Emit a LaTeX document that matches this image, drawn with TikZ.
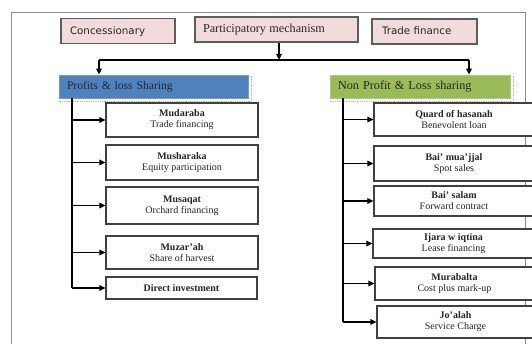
\documentclass[tikz,border=0pt]{standalone}
\usepackage{fontspec}
\setmainfont{Liberation Serif}
\newfontfamily\sansd{DejaVu Sans}
\usetikzlibrary{arrows.meta,calc}
\definecolor{pinkf}{HTML}{F2DCDB}
\definecolor{bluef}{HTML}{4F81BD}
\definecolor{greenf}{HTML}{9BBB59}
\definecolor{framec}{HTML}{8C8C8C}
\definecolor{boxc}{HTML}{404040}
\definecolor{txtc}{HTML}{262626}
\begin{document}
\begin{tikzpicture}[x=1pt,y=-1pt,
  topbox/.style={draw=boxc!85, line width=1.2pt, fill=pinkf, inner ysep=0pt, align=left, text=txtc},
  headbox/.style={line width=0.8pt, inner ysep=0pt, inner xsep=8pt, align=left, text=txtc},
  itembox/.style={draw=boxc, line width=1.2pt, fill=white, inner sep=0pt, align=center, text=txtc,
     font=\fontsize{10}{11}\selectfont},
  conn/.style={line width=1.5pt, black},
  arr/.style={line width=1.5pt, black, -{Triangle[length=6pt,width=5.5pt]}},
  shadowl/.style={line width=0.8pt, gray!55, densely dotted}]
\useasboundingbox (0,0) rectangle (532,344);
\fill[white] (0,0) rectangle (532,344);
% frame
\draw[framec, line width=1pt] (11,344) -- (11,13) -- (525,13) -- (525,344);

% top boxes (text left aligned)
\node[topbox, inner xsep=9pt, text width=96pt, minimum height=25pt, text depth=1pt] (conc) at (118,31)
  {\sansd\fontsize{10.3}{12}\selectfont Concessionary};
\node[topbox, inner xsep=8pt, text width=147pt, minimum height=25pt] (pm) at (276.5,29.5)
  {\fontsize{12.2}{14}\selectfont Participatory mechanism};
\node[topbox, inner xsep=10pt, text width=85pt, minimum height=25pt, text depth=1pt] (tf) at (424.5,31.5)
  {\sansd\fontsize{10.3}{12}\selectfont Trade finance};

% heads
\node[headbox, fill=bluef, draw=bluef!80!white, text width=173pt, minimum height=23pt,
  font=\fontsize{11.6}{14}\selectfont] (pls) at (153.5,86.5)
  {Profits \& loss Sharing};
\node[headbox, fill=greenf, draw=greenf!80!white, text width=164pt, minimum height=23pt,
  font=\fontsize{12.2}{14}\selectfont] (npls) at (420,86.5)
  {Non Profit \& Loss sharing};
\draw[shadowl] ($(pls.north east)+(3,1)$) -- ($(pls.south east)+(3,3)$) -- ($(pls.south west)+(-1,3)$);
\draw[shadowl] ($(npls.north east)+(3,1)$) -- ($(npls.south east)+(3,3)$) -- ($(npls.south west)+(-1,3)$);

% distribution
\coordinate (jn) at (279,60);
\coordinate (hl) at (99,60);
\coordinate (hr) at (469,60);
\draw[arr] (jn |- pm.south) -- (jn);
\draw[conn] (hl) -- (hr);
\draw[arr] (hl) -- (hl |- pls.north);
\draw[arr] (hr) -- (hr |- npls.north);

% left items
\node[itembox, minimum width=152pt, minimum height=34pt] (b1) at (182,120)
  {\textbf{Mudaraba}\\Trade financing};
\node[itembox, minimum width=152pt, minimum height=35pt] (b2) at (182,162.5)
  {\textbf{Musharaka}\\Equity participation};
\node[itembox, minimum width=152pt, minimum height=37pt] (b3) at (182,205.5)
  {\textbf{Musaqat}\\Orchard financing};
\node[itembox, minimum width=152pt, minimum height=33pt] (b4) at (182,252.5)
  {\textbf{Muzar'ah}\\Share of harvest};
\node[itembox, minimum width=151pt, minimum height=22pt] (b5) at (181.5,288)
  {\textbf{Direct investment}};

\coordinate (lv) at (72,98);
\draw[conn] (lv) -- (lv |- b5.west);
\foreach \b in {b1,b2,b3,b4,b5} \draw[arr] (lv |- \b.west) -- (\b.west);

% right items
\node[itembox, minimum width=160pt, minimum height=33pt] (r1) at (454,119.5)
  {\textbf{Quard of hasanah}\\Benevolent loan};
\node[itembox, minimum width=160pt, minimum height=35pt] (r2) at (454,163.5)
  {\textbf{Bai' mua'jjal}\\Spot sales};
\node[itembox, minimum width=160pt, minimum height=30pt] (r3) at (454,201)
  {\textbf{Bai' salam}\\Forward contract};
\node[itembox, minimum width=161pt, minimum height=29pt] (r4) at (453.5,243.5)
  {\textbf{Ijara w iqtina}\\Lease financing};
\node[itembox, minimum width=159pt, minimum height=33pt] (r5) at (454.5,283.5)
  {\textbf{Murabalta}\\Cost plus mark-up};
\node[itembox, minimum width=157pt, minimum height=32pt] (r6) at (455.5,322)
  {\textbf{Jo'alah}\\Service Charge};

\coordinate (rv) at (343,98);
\draw[conn] (rv) -- (rv |- r6.west);
\foreach \b in {r1,r2,r3,r4,r5,r6} \draw[arr] (rv |- \b.west) -- (\b.west);
\end{tikzpicture}
\end{document}
